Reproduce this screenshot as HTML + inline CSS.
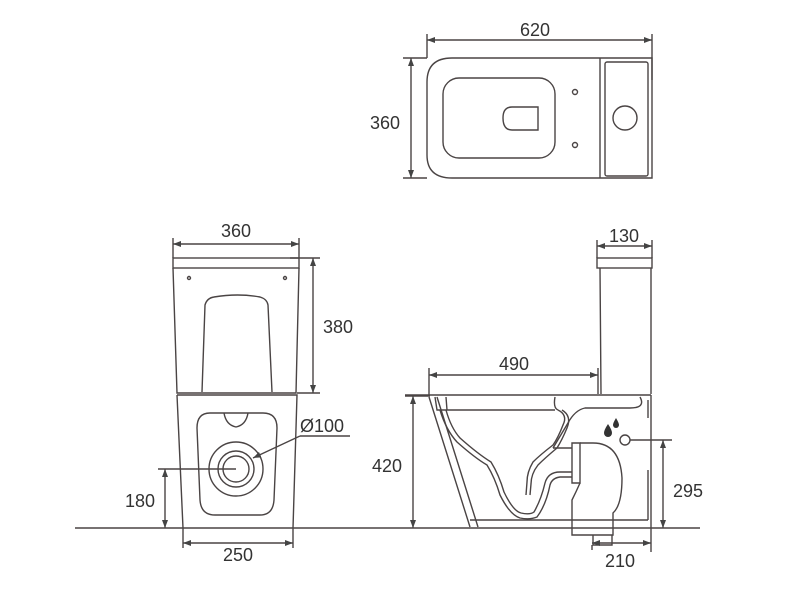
<!DOCTYPE html>
<html><head><meta charset="utf-8"><style>
html,body{margin:0;padding:0;background:#fff;}
svg{display:block}
text{font-family:"Liberation Sans",sans-serif;font-size:18px;fill:#333;text-anchor:middle}
</style></head><body>
<svg width="789" height="600" viewBox="0 0 789 600" xmlns="http://www.w3.org/2000/svg">
<defs>
<marker id="a" markerWidth="8" markerHeight="6" refX="8" refY="3" orient="auto-start-reverse" markerUnits="userSpaceOnUse"><path d="M0,0 L8,3 L0,6 Z" fill="#444"/></marker>
</defs>
<g fill="none" stroke="#4a4444" stroke-width="1.4">
<!-- TOP VIEW -->
<path d="M452,58 H652 V178 H452 Q427,178 427,155 V82 Q427,58 452,58 Z"/>
<line x1="600" y1="58" x2="600" y2="178"/>
<rect x="605" y="62" width="43" height="114" rx="2"/>
<circle cx="625" cy="118" r="12"/>
<rect x="443" y="78" width="112" height="80" rx="16"/>
<path d="M538,107 H512 Q503,107 503,118 Q503,130 512,130 H538 Z"/>
<circle cx="575" cy="92" r="2.5"/><circle cx="575" cy="145" r="2.5"/>
<line x1="427" y1="34" x2="427" y2="58"/><line x1="652" y1="34" x2="652" y2="80"/>
<line x1="427" y1="40" x2="652" y2="40" marker-start="url(#a)" marker-end="url(#a)"/>
<line x1="403" y1="58" x2="427" y2="58"/><line x1="403" y1="178" x2="427" y2="178"/>
<line x1="411" y1="58" x2="411" y2="178" marker-start="url(#a)" marker-end="url(#a)"/>

<!-- FLOOR -->
<line x1="75" y1="528" x2="700" y2="528"/>

<!-- FRONT VIEW -->
<rect x="173" y="258" width="126" height="10"/>
<path d="M173,268 L177,393 H296 L299,268"/>
<path d="M177,395 H297 L293,528 M177,395 L183,528"/>
<circle cx="189" cy="278" r="1.5"/><circle cx="285" cy="278" r="1.5"/>
<path d="M202,392 L205,305 Q207,298 214,297 Q238,293 260,297 Q267,299 268,305 L272,392"/>
<path d="M210,413 Q197,413 197,428 L200,500 Q201,515 215,515 H260 Q273,515 274,500 L277,428 Q277,413 263,413 Z"/>
<path d="M224,413 Q226,425 236,427 Q246,425 248,413" />
<circle cx="236" cy="469" r="27"/>
<circle cx="236" cy="469" r="18"/>
<circle cx="236" cy="469" r="13"/>
<line x1="158" y1="469" x2="236" y2="469"/>
<line x1="165" y1="469" x2="165" y2="528" marker-start="url(#a)" marker-end="url(#a)"/>
<line x1="253" y1="458" x2="300" y2="436" marker-start="url(#a)"/>
<line x1="300" y1="436" x2="350" y2="436"/>
<line x1="173" y1="238" x2="173" y2="258"/><line x1="299" y1="238" x2="299" y2="258"/>
<line x1="173" y1="244" x2="299" y2="244" marker-start="url(#a)" marker-end="url(#a)"/>
<line x1="290" y1="258" x2="320" y2="258"/><line x1="297" y1="393" x2="320" y2="393"/>
<line x1="313" y1="258" x2="313" y2="393" marker-start="url(#a)" marker-end="url(#a)"/>
<line x1="183" y1="528" x2="183" y2="548"/><line x1="293" y1="528" x2="293" y2="548"/>
<line x1="183" y1="543" x2="293" y2="543" marker-start="url(#a)" marker-end="url(#a)"/>

<!-- SIDE VIEW -->
<rect x="597" y="258" width="55" height="10"/>
<path d="M600,268 L601,394 M651,268 V394"/>
<line x1="405" y1="395" x2="651" y2="395"/>
<path d="M429,397 L470,527 M437,397 L478,527 M470,520 H478"/>
<path d="M651,395 V528 M648,400 V418 M648,470 V520"/>
<path d="M435,397 L437,410 H447 L446,397 M447,410 H555 M555,397 Q553,408 558,410"/>
<path d="M440,410 Q446,430 457,442 Q475,458 487,465 Q495,478 500,495 Q510,515 520,518 Q530,520 537,517 Q546,505 550,485 Q552,478 560,477 H572"/>
<path d="M446,410 Q451,428 460,438 Q478,454 491,462 Q499,475 504,492 Q513,511 521,513 Q530,515 534,512 Q541,500 545,483 Q548,472 560,472 H572"/>
<path d="M558,410 Q568,415 563,425 Q558,438 553,445 Q540,455 533,462 Q527,472 527,482 L526,495"/>
<path d="M562,410 Q572,416 567,428 Q562,440 557,448 Q545,458 538,465 Q531,474 531,484 L530,495"/>
<path d="M640,397 Q646,408 630,408 H585 Q575,410 568,423 L553,448"/>
<path d="M553,448 H572 M572,443 H580 V483 H572 Z"/>
<path d="M580,443 H593 Q620,443 622,478 Q622,505 613,513 V535 H572 V500 Q576,492 580,483"/>
<path d="M593,535 V545 H612 V535"/>
<line x1="478" y1="520" x2="648" y2="520"/>
<circle cx="625" cy="440" r="5"/>
<line x1="630" y1="440" x2="672" y2="440"/>
<line x1="663" y1="440" x2="663" y2="528" marker-start="url(#a)" marker-end="url(#a)"/>
<line x1="597" y1="240" x2="597" y2="258"/><line x1="652" y1="240" x2="652" y2="258"/>
<line x1="597" y1="246" x2="652" y2="246" marker-start="url(#a)" marker-end="url(#a)"/>
<line x1="429" y1="368" x2="429" y2="396"/><line x1="598" y1="368" x2="598" y2="394"/>
<line x1="429" y1="375" x2="598" y2="375" marker-start="url(#a)" marker-end="url(#a)"/>
<line x1="405" y1="396" x2="430" y2="396"/>
<line x1="413" y1="396" x2="413" y2="528" marker-start="url(#a)" marker-end="url(#a)"/>
<line x1="592" y1="545" x2="592" y2="550"/><line x1="651" y1="528" x2="651" y2="552"/>
<line x1="592" y1="543" x2="651" y2="543" marker-start="url(#a)" marker-end="url(#a)"/>
</g>
<g fill="#333">
<path d="M608,424 Q604,430 604,433 A4,4 0 0 0 612,433 Q612,430 608,424 Z"/>
<path d="M616,418 Q613,423 613,425 A3,3 0 0 0 619,425 Q619,423 616,418 Z"/>
</g>
<text x="535" y="36">620</text>
<text x="385" y="129">360</text>
<text x="236" y="237">360</text>
<text x="338" y="333">380</text>
<text x="322" y="432">Ø100</text>
<text x="140" y="507">180</text>
<text x="238" y="561">250</text>
<text x="624" y="242">130</text>
<text x="514" y="370">490</text>
<text x="387" y="472">420</text>
<text x="688" y="497">295</text>
<text x="620" y="567">210</text>
</svg>
</body></html>
